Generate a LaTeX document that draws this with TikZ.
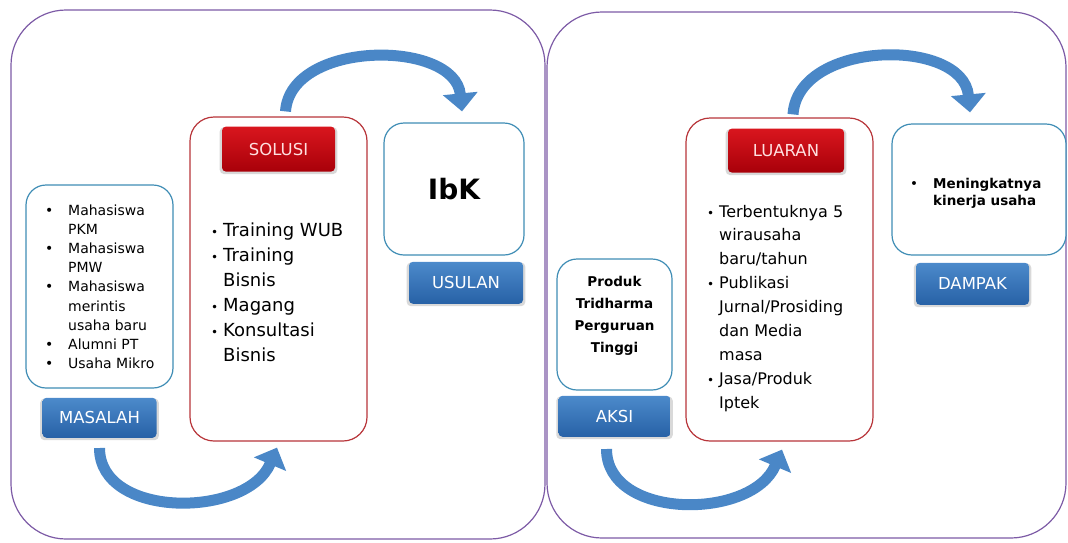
\documentclass[tikz,border=0pt]{standalone}
\usepackage{fontspec}
\setmainfont{DejaVu Sans}
\usepackage{xcolor}
\usepackage{tikz}
\usetikzlibrary{shapes,arrows.meta,positioning,shadows}

\definecolor{panelpurple}{HTML}{7D5BA6}
\definecolor{boxblue}{HTML}{3F8DB5}
\definecolor{boxred}{HTML}{B8353A}
\definecolor{tagbluetop}{HTML}{4C8ACB}
\definecolor{tagbluebot}{HTML}{2761A6}
\definecolor{tagredtop}{HTML}{D9161E}
\definecolor{tagredbot}{HTML}{A80009}
\definecolor{arrowblue}{HTML}{4A87C7}

\newcommand{\smallbul}{{\fontsize{12}{12}\selectfont\textbullet}}

\begin{document}
\begin{tikzpicture}[x=1pt, y=-1pt, node distance=10pt, auto]
  \tikzstyle{panel} = [rectangle, draw=panelpurple, line width=1.2pt, rounded corners=55pt]
  \tikzstyle{bluebox} = [rectangle, draw=boxblue, line width=1.2pt, fill=white, rounded corners=20pt]
  \tikzstyle{redbox} = [rectangle, draw=boxred, line width=1.2pt, fill=white, rounded corners=24pt]
  \tikzstyle{tagbox} = [rectangle, rounded corners=4pt, minimum width=113pt, minimum height=42pt, text=white, font=\fontsize{16.5}{18}\selectfont, drop shadow={opacity=0.3, shadow xshift=0pt, shadow yshift=-1.5pt, shadow scale=1.04}]
  \tikzstyle{bluetag} = [tagbox, top color=tagbluetop, bottom color=tagbluebot]
  \tikzstyle{redtag} = [tagbox, top color=tagredtop, bottom color=tagredbot, text=white!88!red]
  \tikzstyle{listtext} = [inner sep=0pt, anchor=base west]
  \tikzstyle{swoop} = [draw=arrowblue, line width=11pt, -{Triangle[width=34pt, length=18pt]}]

  \useasboundingbox (0,0) rectangle (1068,542);

  \node [panel, minimum width=534pt, minimum height=529pt] (leftpanel) at (278,274.5) {};
  \node [panel, minimum width=519pt, minimum height=526pt] (rightpanel) at (806.5,275) {};

  \node [bluebox, minimum width=147pt, minimum height=203pt] (masalahbox) at (99.5,286.5) {};
  \node [bluetag, below=9pt of masalahbox, minimum width=114pt, minimum height=40pt] (masalah) {MASALAH};
  \node [listtext, font=\fontsize{14}{19.2}\selectfont] (masalahlist) at (45,215) {\begin{tabular}[t]{@{}p{23pt}@{}l@{}}
    \textbullet & Mahasiswa\\ & PKM\\
    \textbullet & Mahasiswa\\ & PMW\\
    \textbullet & Mahasiswa\\ & merintis\\ & usaha baru\\
    \textbullet & Alumni PT\\
    \textbullet & Usaha Mikro
  \end{tabular}};

  \node [redbox, minimum width=177pt, minimum height=324pt] (solusibox) at (278.5,279) {};
  \node [redtag, below=10pt of solusibox.north, minimum height=45pt] (solusi) {SOLUSI};
  \node [listtext, font=\fontsize{18}{25}\selectfont] (solusilist) at (211,236.5) {\begin{tabular}[t]{@{}p{12pt}@{}l@{}}
    \smallbul & Training WUB\\
    \smallbul & Training\\ & Bisnis\\
    \smallbul & Magang\\
    \smallbul & Konsultasi\\ & Bisnis
  \end{tabular}};

  \node [bluebox, minimum width=140pt, minimum height=132pt, font=\fontsize{28}{30}\selectfont\bfseries] (ibkbox) at (454,189) {IbK};
  \node [bluetag, below=6pt of ibkbox, xshift=12pt, minimum width=114pt] (usulan) {USULAN};

  \node [bluebox, minimum width=115pt, minimum height=131pt] (aksibox) at (614.5,324.5) {};
  \node [inner sep=0pt, anchor=base, font=\fontsize{13.5}{22}\selectfont\bfseries] (aksitext) at (614.5,286) {\begin{tabular}[t]{@{}c@{}}
    Produk\\ Tridharma\\ Perguruan\\ Tinggi
  \end{tabular}};
  \node [bluetag, below=5pt of aksibox, minimum width=112pt, minimum height=41pt] (aksi) {AKSI};

  \node [redbox, minimum width=187pt, minimum height=323pt] (luaranbox) at (779.5,279.5) {};
  \node [redtag, below=11pt of luaranbox.north, xshift=6.5pt, minimum width=116pt, minimum height=44pt] (luaran) {LUARAN};
  \node [listtext, font=\fontsize{16}{23.9}\selectfont] (luaranlist) at (707,217) {\begin{tabular}[t]{@{}p{12pt}@{}l@{}}
    \smallbul & Terbentuknya 5\\ & wirausaha\\ & baru/tahun\\
    \smallbul & Publikasi\\ & Jurnal/Prosiding\\ & dan Media\\ & masa\\
    \smallbul & Jasa/Produk\\ & Iptek
  \end{tabular}};

  \node [bluebox, minimum width=174pt, minimum height=131pt] (dampakbox) at (979,189.5) {};
  \node [listtext, font=\fontsize{13.5}{17}\selectfont\bfseries] (dampaklist) at (910,188) {\begin{tabular}[t]{@{}p{23pt}@{}l@{}}
    {\mdseries\textbullet} & Meningkatnya\\ & kinerja usaha
  \end{tabular}};
  \node [bluetag, below=7pt of dampakbox, xshift=-6.5pt] (dampak) {DAMPAK};

  \path [swoop] ([yshift=-10pt]masalah.south) .. controls +(0,71) and +(-30,71) .. ([xshift=-1.5pt, yshift=-6pt]solusibox.south);
  \path [swoop] ([xshift=7pt, yshift=5pt]solusibox.north) .. controls +(5,-72) and +(-7,-72) .. ([xshift=8pt, yshift=11pt]ibkbox.north);
  \path [swoop] ([xshift=-8pt, yshift=-12pt]aksi.south) .. controls +(0,71) and +(-30,71) .. ([xshift=2.5pt, yshift=-8pt]luaranbox.south);
  \path [swoop] ([xshift=13.5pt, yshift=3pt]luaranbox.north) .. controls +(5,-75) and +(-7,-75) .. ([xshift=-9pt, yshift=11pt]dampakbox.north);
\end{tikzpicture}
\end{document}
